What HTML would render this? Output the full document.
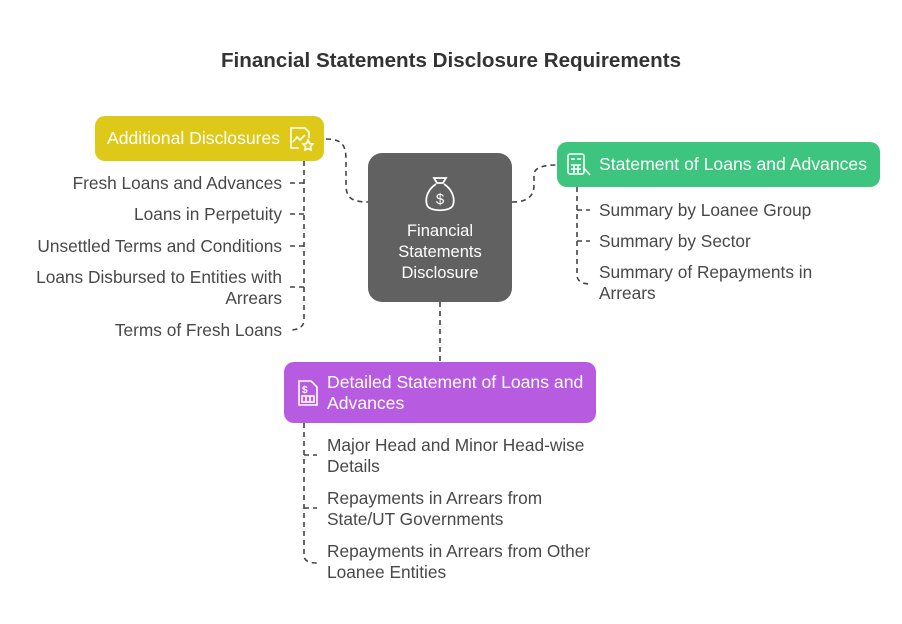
<!DOCTYPE html>
<html><head><meta charset="utf-8"><style>
body{margin:0;width:902px;height:624px;background:#fff;position:relative;font-family:"Liberation Sans",sans-serif;overflow:hidden}
.t{position:absolute;font-size:17.3px;color:#484848;line-height:21px;white-space:nowrap}
.r{text-align:right}
.box{position:absolute;border-radius:10px;color:#fff;font-size:17.6px;white-space:nowrap}
</style></head><body>
<div style="position:absolute;left:0;width:902px;top:49px;text-align:center;font-size:20.6px;font-weight:bold;color:#333">Financial Statements Disclosure Requirements</div>
<svg width="902" height="624" style="position:absolute;left:0;top:0">
<g fill="none" stroke="#444" stroke-width="1.6" stroke-dasharray="5,4">
<path d="M326,139 C342,139 346,145 346,160 L346,185 C346,198 352,202 368,202"/>
<path d="M512,202 C528,202 534,196 534,185 L534,175 C534,168 542,165 557,165"/>
<path d="M440,302 L440,362"/>
<path d="M304,161 L304,320 C304,327 298,330 290,330"/>
<path d="M290,183 H304 M290,214 H304 M290,246 H304 M290,287 H304"/>
<path d="M577,187 L577,275 C577,281 582,284 590,284"/>
<path d="M577,210 H590 M577,241 H590"/>
<path d="M304,423 L304,555 C304,561 309,563 317,563"/>
<path d="M304,455 H317 M304,508 H317"/>
</g>
</svg>
<div class="box" style="left:95px;top:116px;width:229px;height:45px;background:#dfc918">
<div style="position:absolute;left:12px;top:12px">Additional Disclosures</div>
<svg style="position:absolute;left:192px;top:8px" width="30" height="30" fill="none" stroke="#fff" stroke-width="1.6"><path d="M12,24 H4 V4 H18 L22,8 V14"/><path d="M6,18 L10,13 L13,16 L18,11"/><path d="M21,16 L22.5,19.5 L26,20 L23.5,22.5 L24,26 L21,24.5 L18,26 L18.5,22.5 L16,20 L19.5,19.5Z"/></svg>
</div>
<div class="box" style="left:368px;top:153px;width:144px;height:149px;background:#616161;border-radius:14px">
<svg style="position:absolute;left:55px;top:22px" width="34" height="40" fill="none" stroke="#fff" stroke-width="1.8"><path d="M11,3 L14,8 L20,8 L23,3 Z"/><path d="M13,9 C4,15 2,24 4,30 C6,37 28,37 30,30 C32,24 30,15 21,9"/><text x="17" y="29" font-size="15" fill="#fff" stroke="none" text-anchor="middle" font-family="Liberation Sans">$</text></svg>
<div style="position:absolute;left:0;width:144px;top:68px;text-align:center;font-size:16.5px;line-height:21px">Financial<br>Statements<br>Disclosure</div>
</div>
<div class="box" style="left:557px;top:142px;width:323px;height:45px;background:#3dc47e">
<svg style="position:absolute;left:8px;top:9px" width="28" height="28" fill="none" stroke="#fff" stroke-width="1.6"><rect x="3" y="3" width="16" height="20" rx="2"/><path d="M6,8 H10 M12,8 H16 M6,14 H16 M6,18 H16 M9,14 V22 M13,14 V22"/><path d="M18,16 L25,24"/></svg>
<div style="position:absolute;left:42px;top:12px">Statement of Loans and Advances</div>
</div>
<div class="box" style="left:284px;top:362px;width:312px;height:61px;background:#b75ce1">
<svg style="position:absolute;left:12px;top:16px" width="24" height="30" fill="none" stroke="#fff" stroke-width="1.6"><path d="M3,3 H15 L21,9 V27 H3 Z"/><text x="6" y="15" font-size="10" fill="#fff" stroke="none" font-family="Liberation Sans" font-weight="bold">$</text><rect x="6" y="18" width="12" height="6"/><path d="M10,18 V24 M14,18 V24"/></svg>
<div style="position:absolute;left:43px;top:10px;line-height:21px">Detailed Statement of Loans and<br>Advances</div>
</div>
<div class="t r" style="right:620px;top:173px">Fresh Loans and Advances</div>
<div class="t r" style="right:620px;top:204px">Loans in Perpetuity</div>
<div class="t r" style="right:620px;top:236px">Unsettled Terms and Conditions</div>
<div class="t r" style="right:620px;top:267px">Loans Disbursed to Entities with<br>Arrears</div>
<div class="t r" style="right:620px;top:320px">Terms of Fresh Loans</div>
<div class="t" style="left:599px;top:200px">Summary by Loanee Group</div>
<div class="t" style="left:599px;top:231px">Summary by Sector</div>
<div class="t" style="left:599px;top:262px">Summary of Repayments in<br>Arrears</div>
<div class="t" style="left:327px;top:435px">Major Head and Minor Head-wise<br>Details</div>
<div class="t" style="left:327px;top:488px">Repayments in Arrears from<br>State/UT Governments</div>
<div class="t" style="left:327px;top:541px">Repayments in Arrears from Other<br>Loanee Entities</div>
</body></html>
